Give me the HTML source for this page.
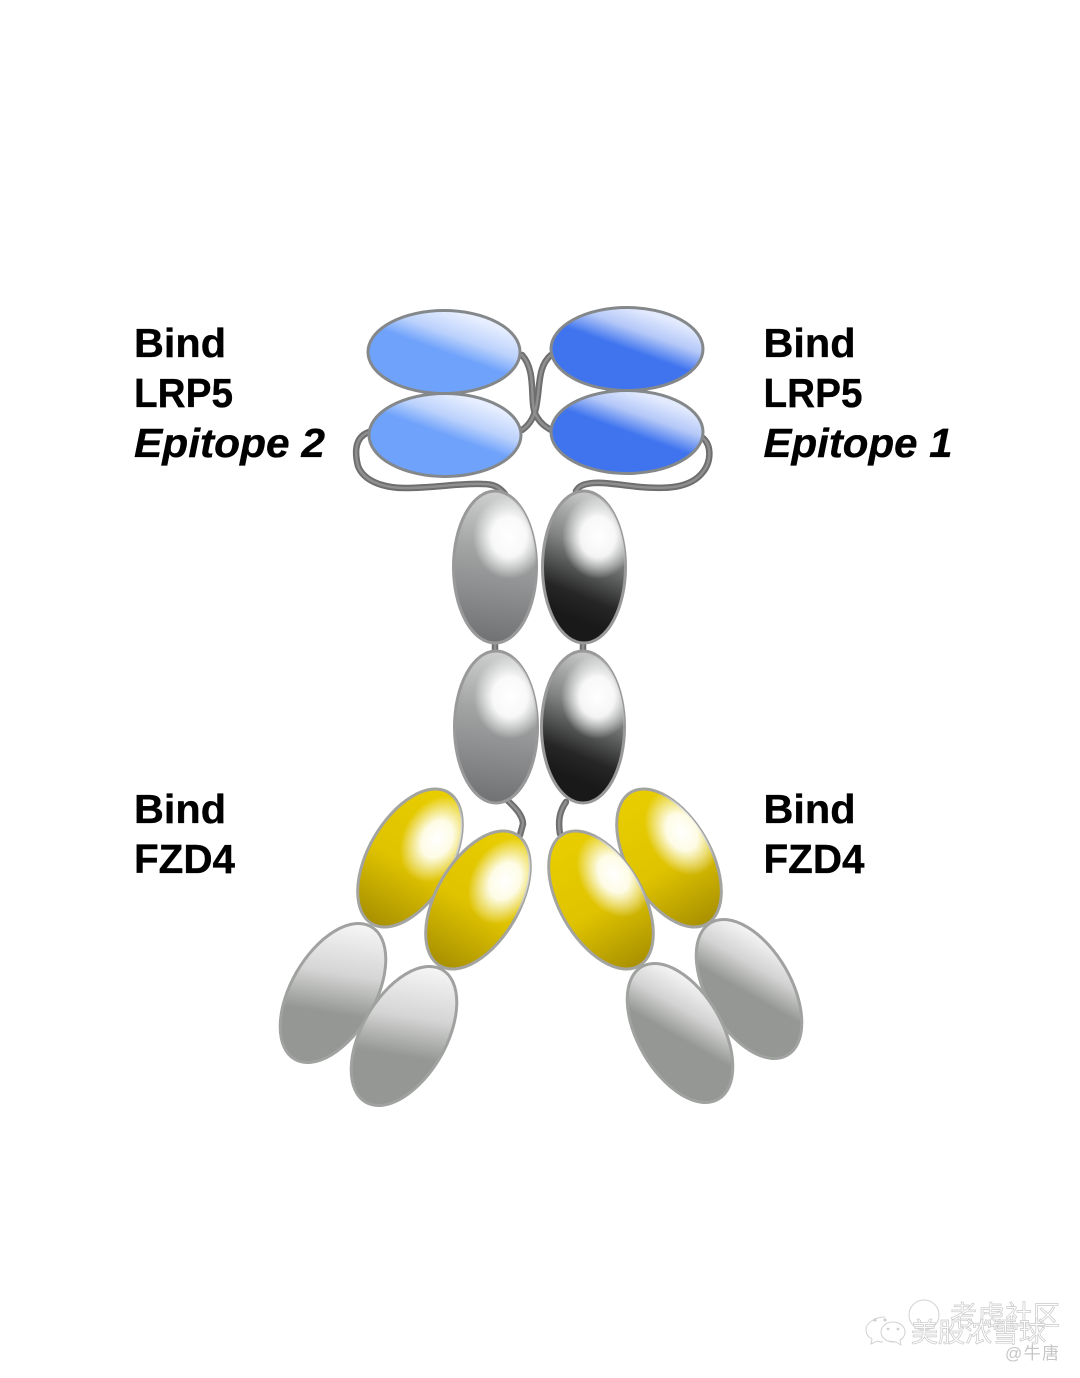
<!DOCTYPE html>
<html><head><meta charset="utf-8"><style>html,body{margin:0;padding:0;background:#fff;width:1080px;height:1378px;overflow:hidden}svg{display:block}
.t{font:bold 41px "Liberation Sans",sans-serif;fill:#000;stroke:#000;stroke-width:.35}.i{font-style:italic}
.w{font-family:"Liberation Sans","Noto Sans CJK SC",sans-serif;fill:#fff;stroke:#c9c9c9;stroke-width:.7}
</style></head><body>
<svg width="1080" height="1378" viewBox="0 0 1080 1378" xmlns="http://www.w3.org/2000/svg">
<defs>
<linearGradient id="bl" gradientUnits="userSpaceOnUse" x1="14" y1="-39" x2="0" y2="0"><stop offset="0" stop-color="#e6eeff"/><stop offset=".55" stop-color="#bcd2fc"/><stop offset="1" stop-color="#6fa2fb"/></linearGradient>
<linearGradient id="br" gradientUnits="userSpaceOnUse" x1="14" y1="-39" x2="0" y2="0"><stop offset="0" stop-color="#e2eafe"/><stop offset=".5" stop-color="#b4c8f8"/><stop offset="1" stop-color="#3f74ee"/></linearGradient>

<linearGradient id="gl" gradientUnits="userSpaceOnUse" x1="15" y1="-76" x2="-5" y2="76"><stop offset="0" stop-color="#d0d1d1"/><stop offset=".4" stop-color="#a2a4a4"/><stop offset="1" stop-color="#6f7173"/></linearGradient>
<linearGradient id="gr" gradientUnits="userSpaceOnUse" x1="30" y1="-60" x2="-15" y2="50"><stop offset="0" stop-color="#c4c5c5"/><stop offset=".4" stop-color="#828484"/><stop offset=".8" stop-color="#262626"/><stop offset="1" stop-color="#191919"/></linearGradient>
<radialGradient id="h" gradientUnits="userSpaceOnUse" cx="0" cy="0" r="1" gradientTransform="translate(14 -30) scale(36 42)"><stop offset="0" stop-color="#fff"/><stop offset=".48" stop-color="#fff" stop-opacity=".92"/><stop offset="1" stop-color="#fff" stop-opacity="0"/></radialGradient>

<linearGradient id="y" gradientUnits="userSpaceOnUse" x1="0" y1="-76" x2="0" y2="76"><stop offset="0" stop-color="#e8ce00"/><stop offset=".55" stop-color="#dfc300"/><stop offset="1" stop-color="#a89000"/></linearGradient>
<radialGradient id="hyl" gradientUnits="userSpaceOnUse" cx="0" cy="0" r="1" gradientTransform="translate(14 -30) scale(34 46)"><stop offset="0" stop-color="#fff"/><stop offset=".42" stop-color="#fffff2" stop-opacity=".95"/><stop offset="1" stop-color="#fff" stop-opacity="0"/></radialGradient>
<radialGradient id="hyr" gradientUnits="userSpaceOnUse" cx="0" cy="0" r="1" gradientTransform="translate(24 -16) scale(34 46)"><stop offset="0" stop-color="#fff"/><stop offset=".42" stop-color="#fffff2" stop-opacity=".95"/><stop offset="1" stop-color="#fff" stop-opacity="0"/></radialGradient>

<linearGradient id="wl" gradientUnits="userSpaceOnUse" x1="-25" y1="-65" x2="7" y2="19"><stop offset="0" stop-color="#f4f4f4"/><stop offset=".55" stop-color="#d4d5d4"/><stop offset="1" stop-color="#959794"/></linearGradient>
<linearGradient id="wr" gradientUnits="userSpaceOnUse" x1="43" y1="-25" x2="-4" y2="2.5"><stop offset="0" stop-color="#f2f2f2"/><stop offset=".5" stop-color="#d2d3d2"/><stop offset="1" stop-color="#959794"/></linearGradient>
</defs>

<!-- connectors -->
<g fill="none" stroke-linecap="round">
<g stroke="#6e6e6e" stroke-width="6.5">
<path d="M369 432C352 438 356 458 358 466C364 482 385 488 405 488C435 488 460 483 483 484C495 484 500 488 505 494"/>
<path d="M703 438C712 446 711 462 703 472C690 489 665 489 640 487C620 485 605 482 593 483C583 484 579 486 576 491"/>
<path d="M522 355C538 372 528 405 537 417C541 424 546 427 551 430"/>
<path d="M551 355C538 366 540 385 537 402C535 418 528 426 522 430"/>
<path d="M495 640V655M583 640V655"/>
<path d="M507 800C516 808 523 816 523 824L520 835"/>
<path d="M566 802C559 812 558 822 560 834"/>
</g>
<g stroke="#8f8f8f" stroke-width="2.5">
<path d="M369 432C352 438 356 458 358 466C364 482 385 488 405 488C435 488 460 483 483 484C495 484 500 488 505 494"/>
<path d="M703 438C712 446 711 462 703 472C690 489 665 489 640 487C620 485 605 482 593 483C583 484 579 486 576 491"/>
<path d="M522 355C538 372 528 405 537 417C541 424 546 427 551 430"/>
<path d="M551 355C538 366 540 385 537 402C535 418 528 426 522 430"/>
<path d="M495 640V655M583 640V655"/>
<path d="M507 800C516 808 523 816 523 824L520 835"/>
<path d="M566 802C559 812 558 822 560 834"/>
</g>
</g>

<!-- blue -->
<g stroke="#85888a" stroke-width="3">
<ellipse transform="translate(444 352)" rx="76" ry="41.5" fill="url(#bl)"/>
<ellipse transform="translate(445 435)" rx="76" ry="41.5" fill="url(#bl)"/>
<ellipse transform="translate(627 349)" rx="76" ry="41.5" fill="url(#br)"/>
<ellipse transform="translate(627 432)" rx="76" ry="41.5" fill="url(#br)"/>
</g>

<!-- central grey -->
<g stroke="#999" stroke-width="3">
<g transform="translate(495 567)"><ellipse rx="41.5" ry="76" fill="url(#gl)"/><ellipse rx="41.5" ry="76" fill="url(#h)" stroke="none"/></g>
<g transform="translate(496 727)"><ellipse rx="41.5" ry="76" fill="url(#gl)"/><ellipse rx="41.5" ry="76" fill="url(#h)" stroke="none"/></g>
<g transform="translate(584 567)"><ellipse rx="41.5" ry="76" fill="url(#gr)"/><ellipse rx="41.5" ry="76" fill="url(#h)" stroke="none"/></g>
<g transform="translate(583 727)"><ellipse rx="41.5" ry="76" fill="url(#gr)"/><ellipse rx="41.5" ry="76" fill="url(#h)" stroke="none"/></g>
</g>

<!-- light grey -->
<g stroke="#a0a2a0" stroke-width="3">
<ellipse rx="42" ry="76.5" transform="translate(333 993) rotate(30)" fill="url(#wl)"/>
<ellipse rx="42" ry="76.5" transform="translate(404 1036) rotate(30)" fill="url(#wl)"/>
<ellipse rx="42" ry="76.5" transform="translate(749 989) rotate(-30)" fill="url(#wr)"/>
<ellipse rx="42" ry="76.5" transform="translate(680 1033) rotate(-30)" fill="url(#wr)"/>
</g>

<!-- yellow -->
<g stroke="#a3a3a0" stroke-width="3">
<g transform="translate(410 858) rotate(30)"><ellipse rx="41.5" ry="76" fill="url(#y)"/><ellipse rx="41.5" ry="76" fill="url(#hyl)" stroke="none"/></g>
<g transform="translate(669 858) rotate(-30)"><ellipse rx="41.5" ry="76" fill="url(#y)"/><ellipse rx="41.5" ry="76" fill="url(#hyr)" stroke="none"/></g>
<g transform="translate(478 900) rotate(30)"><ellipse rx="41.5" ry="76" fill="url(#y)"/><ellipse rx="41.5" ry="76" fill="url(#hyl)" stroke="none"/></g>
<g transform="translate(601 900) rotate(-30)"><ellipse rx="41.5" ry="76" fill="url(#y)"/><ellipse rx="41.5" ry="76" fill="url(#hyr)" stroke="none"/></g>
</g>

<!-- labels -->
<text class="t" x="134" y="357" textLength="92" lengthAdjust="spacingAndGlyphs">Bind</text>
<text class="t" x="134" y="407" textLength="99" lengthAdjust="spacingAndGlyphs">LRP5</text>
<text class="t i" x="134" y="457" textLength="191" lengthAdjust="spacingAndGlyphs">Epitope 2</text>
<text class="t" x="763.5" y="357" textLength="92" lengthAdjust="spacingAndGlyphs">Bind</text>
<text class="t" x="763.5" y="407" textLength="99" lengthAdjust="spacingAndGlyphs">LRP5</text>
<text class="t i" x="763.5" y="457" textLength="189" lengthAdjust="spacingAndGlyphs">Epitope 1</text>
<text class="t" x="134" y="823" textLength="92" lengthAdjust="spacingAndGlyphs">Bind</text>
<text class="t" x="134" y="873" textLength="101" lengthAdjust="spacingAndGlyphs">FZD4</text>
<text class="t" x="763.5" y="823" textLength="92" lengthAdjust="spacingAndGlyphs">Bind</text>
<text class="t" x="763.5" y="873" textLength="101" lengthAdjust="spacingAndGlyphs">FZD4</text>

<!-- watermark -->
<g fill="#fff" stroke="#d2d2d2" stroke-width="1">
<circle cx="924" cy="1315" r="15"/>
<path d="M885 1317c-10 0-19 6-19 13 0 4 2 7 6 9l-1 5 6-3c2 1 4 1 6 1"/>
<ellipse cx="893" cy="1332" rx="12" ry="10"/>
<path d="M888 1341l8 1 5 3-1-5"/>
</g>
<g fill="#cfcfcf"><circle cx="875" cy="1320" r="1.6"/><circle cx="885" cy="1320" r="1.6"/><circle cx="888" cy="1329" r="1.4"/><circle cx="898" cy="1329" r="1.4"/></g>
<text class="w" x="950" y="1325" font-size="27" textLength="110">考虑社区</text>
<text class="w" x="911" y="1342" font-size="27" textLength="135">美股浓雪球</text>
<text x="1005" y="1359" font-family="'Liberation Sans','Noto Sans CJK SC',sans-serif" font-size="17" fill="#c6c6c6" textLength="54">@牛唐</text>
</svg>
</body></html>
